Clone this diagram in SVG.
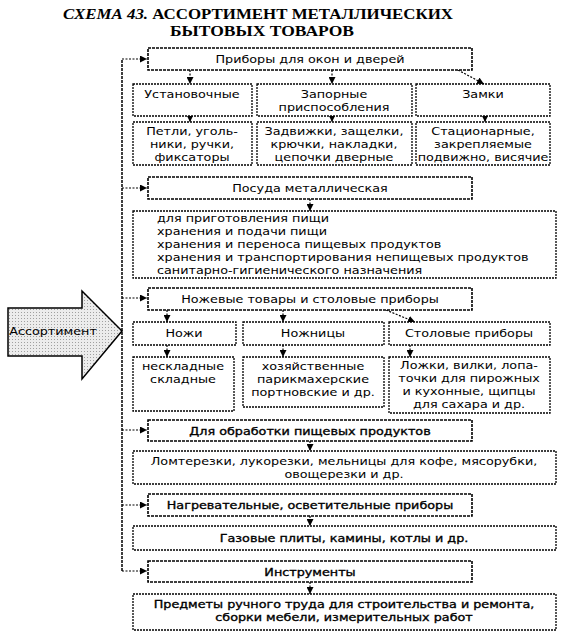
<svg xmlns="http://www.w3.org/2000/svg" width="570" height="637" viewBox="0 0 570 637">
<defs>
<marker id="ah" viewBox="0 0 8 8" refX="8" refY="4" markerWidth="7" markerHeight="7" markerUnits="userSpaceOnUse" orient="auto">
<path d="M0,0 L8,4 L0,8 Z" fill="#000"/>
</marker>
<pattern id="dots" width="3" height="3" patternUnits="userSpaceOnUse">
<rect width="3" height="3" fill="#ececec"/>
<rect width="1" height="1" fill="#a0a0a0"/>
</pattern>
</defs>
<style>
.box{fill:#fff;stroke:#000;stroke-width:1.3;stroke-dasharray:2 1}
.main{fill:#fff;stroke:#000;stroke-width:1.6;stroke-dasharray:3 1}
.t{font-family:"DejaVu Sans","Liberation Sans",sans-serif;font-size:11.1px;fill:#000;text-anchor:middle}
.l{font-family:"DejaVu Sans","Liberation Sans",sans-serif;font-size:11.1px;fill:#000}
.b{stroke:#000;stroke-width:0.35}
.ttl{font-family:"Liberation Serif","Times New Roman",serif;font-size:14px;font-weight:bold;fill:#000;text-anchor:middle}
.c{fill:none;stroke:#000;stroke-width:1.2;stroke-dasharray:2 1.5}
.trunk{fill:none;stroke:#000;stroke-width:1.5;stroke-dasharray:3 1}
</style>
<rect width="570" height="637" fill="#fff"/>
<g id="title">
<text class="ttl" x="258" y="19" textLength="390" lengthAdjust="spacingAndGlyphs"><tspan font-style="italic">СХЕМА 43.</tspan> АССОРТИМЕНТ МЕТАЛЛИЧЕСКИХ</text>
<text class="ttl" x="262" y="36" textLength="184" lengthAdjust="spacingAndGlyphs">БЫТОВЫХ ТОВАРОВ</text>
</g>
<g id="connectors">
<path class="trunk" d="M122,571 V59"/>
<path class="c" d="M122,59 H147" marker-end="url(#ah)"/>
<path class="c" d="M122,188 H147" marker-end="url(#ah)"/>
<path class="c" d="M122,298 H147" marker-end="url(#ah)"/>
<path class="c" d="M122,430 H147" marker-end="url(#ah)"/>
<path class="c" d="M122,505 H147" marker-end="url(#ah)"/>
<path class="c" d="M122,571 H147" marker-end="url(#ah)"/>
<path class="c" d="M190,70 V84" marker-end="url(#ah)"/>
<path class="c" d="M332,70 V84" marker-end="url(#ah)"/>
<path class="c" d="M458,70 L484,84" marker-end="url(#ah)"/>
<path class="c" d="M190,116 V122" marker-end="url(#ah)"/>
<path class="c" d="M332,116 V122" marker-end="url(#ah)"/>
<path class="c" d="M485,116 V122" marker-end="url(#ah)"/>
<path class="c" d="M310,199 V211" marker-end="url(#ah)"/>
<path class="c" d="M167,310 V322" marker-end="url(#ah)"/>
<path class="c" d="M283,310 V322" marker-end="url(#ah)"/>
<path class="c" d="M386,310 L415,322" marker-end="url(#ah)"/>
<path class="c" d="M167,345 V357" marker-end="url(#ah)"/>
<path class="c" d="M283,345 V357" marker-end="url(#ah)"/>
<path class="c" d="M410,345 V357" marker-end="url(#ah)"/>
<path class="c" d="M310,441 V451" marker-end="url(#ah)"/>
<path class="c" d="M310,516 V526" marker-end="url(#ah)"/>
<path class="c" d="M310,582 V594" marker-end="url(#ah)"/>
</g>
<g id="assortiment">
<path d="M8,308 H82 V291 L122,331 L82,379 V356 H8 Z" fill="url(#dots)" stroke="#000" stroke-width="1.5"/>
<text class="t" transform="translate(53,335) scale(1.15,1)">Ассортимент</text>
</g>
<g id="n-windows">
<rect class="main" x="148" y="48" width="324" height="22"/>
<text class="t" transform="translate(310,63) scale(1.15,1)">Приборы для окон и дверей</text>
</g>
<g id="n-ustanov">
<rect class="box" x="133" y="84" width="119" height="32"/>
<text class="t" transform="translate(192,98) scale(1.15,1)">Установочные</text>
</g>
<g id="n-zapor">
<rect class="box" x="257" y="84" width="155" height="32"/>
<text class="t" transform="translate(334,98) scale(1.15,1)">Запорные</text>
<text class="t" transform="translate(334,111) scale(1.15,1)">приспособления</text>
</g>
<g id="n-zamki">
<rect class="box" x="416" y="84" width="134" height="32"/>
<text class="t" transform="translate(483,98) scale(1.15,1)">Замки</text>
</g>
<g id="n-petli">
<rect class="box" x="133" y="122" width="119" height="43"/>
<text class="t" transform="translate(192,135) scale(1.15,1)">Петли, уголь-</text>
<text class="t" transform="translate(192,148) scale(1.15,1)">ники, ручки,</text>
<text class="t" transform="translate(192,161) scale(1.15,1)">фиксаторы</text>
</g>
<g id="n-zadv">
<rect class="box" x="257" y="122" width="155" height="43"/>
<text class="t" transform="translate(334,135) scale(1.15,1)">Задвижки, защелки,</text>
<text class="t" transform="translate(334,148) scale(1.15,1)">крючки, накладки,</text>
<text class="t" transform="translate(334,161) scale(1.15,1)">цепочки дверные</text>
</g>
<g id="n-stac">
<rect class="box" x="416" y="122" width="134" height="43"/>
<text class="t" transform="translate(483,135) scale(1.15,1)">Стационарные,</text>
<text class="t" transform="translate(483,148) scale(1.15,1)">закрепляемые</text>
<text class="t" transform="translate(483,161) scale(1.15,1)">подвижно, висячие</text>
</g>
<g id="n-posuda">
<rect class="main" x="148" y="177" width="324" height="22"/>
<text class="t" transform="translate(310,192) scale(1.15,1)">Посуда металлическая</text>
</g>
<g id="n-posuda-list">
<rect class="box" x="133" y="211" width="423" height="67"/>
<text class="l" transform="translate(157,222) scale(1.15,1)">для приготовления пищи</text>
<text class="l" transform="translate(157,235) scale(1.15,1)">хранения и подачи пищи</text>
<text class="l" transform="translate(157,248) scale(1.15,1)">хранения и переноса пищевых продуктов</text>
<text class="l" transform="translate(157,261) scale(1.15,1)">хранения и транспортирования непищевых продуктов</text>
<text class="l" transform="translate(157,274) scale(1.15,1)">санитарно-гигиенического назначения</text>
</g>
<g id="n-nozh">
<rect class="main" x="148" y="288" width="324" height="22"/>
<text class="t" transform="translate(310,303) scale(1.15,1)">Ножевые товары и столовые приборы</text>
</g>
<g id="n-nozhi">
<rect class="box" x="133" y="322" width="103" height="23"/>
<text class="t" transform="translate(184,337) scale(1.15,1)">Ножи</text>
</g>
<g id="n-nozhnicy">
<rect class="box" x="243" y="322" width="141" height="23"/>
<text class="t" transform="translate(313,337) scale(1.15,1)">Ножницы</text>
</g>
<g id="n-stolovye">
<rect class="box" x="389" y="322" width="161" height="23"/>
<text class="t" transform="translate(469,337) scale(1.15,1)">Столовые приборы</text>
</g>
<g id="n-neskl">
<rect class="box" x="133" y="357" width="101" height="54"/>
<text class="t" transform="translate(183,370) scale(1.15,1)">нескладные</text>
<text class="t" transform="translate(183,383) scale(1.15,1)">складные</text>
</g>
<g id="n-hoz">
<rect class="box" x="243" y="357" width="141" height="50"/>
<text class="t" transform="translate(313,370) scale(1.15,1)">хозяйственные</text>
<text class="t" transform="translate(313,383) scale(1.15,1)">парикмахерские</text>
<text class="t" transform="translate(313,396) scale(1.15,1)">портновские и др.</text>
</g>
<g id="n-lozhki">
<rect class="box" x="389" y="357" width="161" height="56"/>
<text class="t" transform="translate(469,369) scale(1.15,1)">Ложки, вилки, лопа-</text>
<text class="t" transform="translate(469,382) scale(1.15,1)">точки для пирожных</text>
<text class="t" transform="translate(469,395) scale(1.15,1)">и кухонные, щипцы</text>
<text class="t" transform="translate(469,408) scale(1.15,1)">для сахара и др.</text>
</g>
<g id="n-obrab">
<rect class="main" x="148" y="420" width="324" height="21"/>
<text class="t b" transform="translate(310,435) scale(1.15,1)">Для обработки пищевых продуктов</text>
</g>
<g id="n-lomt">
<rect class="box" x="133" y="451" width="423" height="33"/>
<text class="t" transform="translate(344,465) scale(1.15,1)">Ломтерезки, лукорезки, мельницы для кофе, мясорубки,</text>
<text class="t" transform="translate(344,478) scale(1.15,1)">овощерезки и др.</text>
</g>
<g id="n-nagrev">
<rect class="main" x="148" y="494" width="324" height="22"/>
<text class="t b" transform="translate(310,509) scale(1.15,1)">Нагревательные, осветительные приборы</text>
</g>
<g id="n-gaz">
<rect class="box" x="133" y="526" width="423" height="24"/>
<text class="t b" transform="translate(344,542) scale(1.15,1)">Газовые плиты, камины, котлы и др.</text>
</g>
<g id="n-instr">
<rect class="main" x="148" y="561" width="324" height="21"/>
<text class="t b" transform="translate(310,576) scale(1.15,1)">Инструменты</text>
</g>
<g id="n-predm">
<rect class="box" x="133" y="594" width="423" height="36"/>
<text class="t b" transform="translate(344,608) scale(1.15,1)">Предметы ручного труда для строительства и ремонта,</text>
<text class="t b" transform="translate(344,621) scale(1.15,1)">сборки мебели, измерительных работ</text>
</g>
</svg>
